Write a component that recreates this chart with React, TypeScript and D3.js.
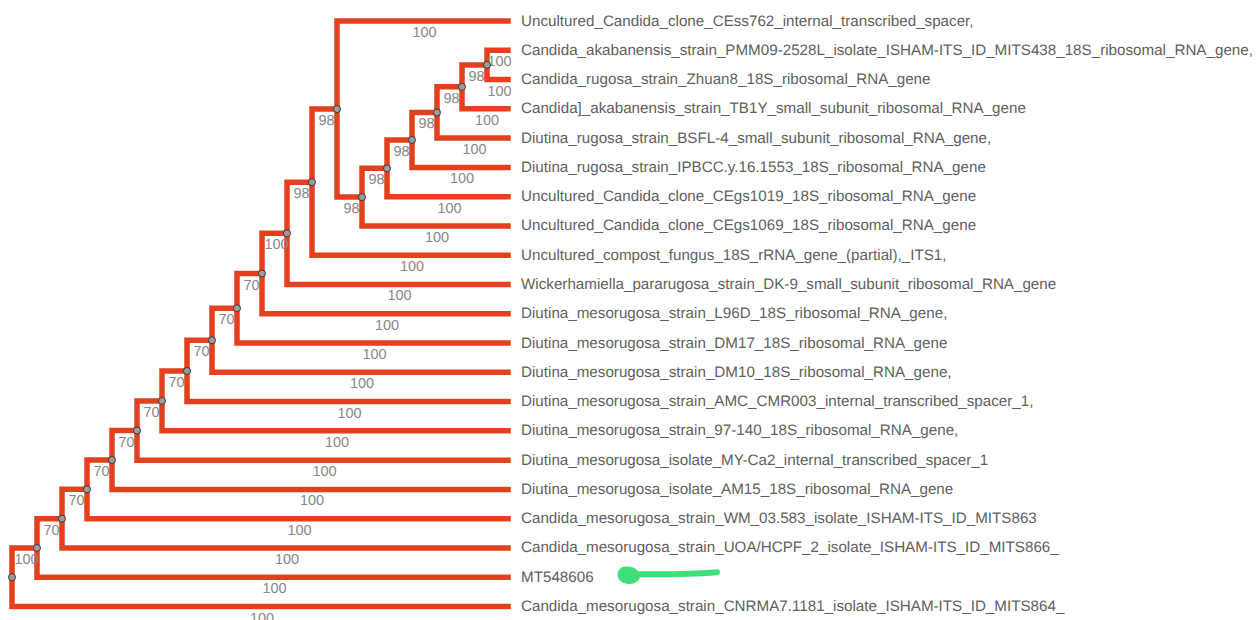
import React from 'react';
import { stratify, cluster, scaleLinear, HierarchyPointNode } from 'd3';

// internal nodes, listed top-down so child order is kept by stratify
const nodeIds = ['root', 'n1', 'n2', 'n3', 'n4', 'n5', 'n6', 'n7', 'n8', 'n9', 'n10', 'n11', 'n12', 'n13', 'n14', 'n15', 'n16', 'n17', 'n18', 'n19'];
const nodeParents = ['', 'root', 'n1', 'n2', 'n3', 'n4', 'n5', 'n6', 'n7', 'n8', 'n9', 'n10', 'n11', 'n12', 'n13', 'n14', 'n15', 'n16', 'n17', 'n18'];
const nodeSupport = [null, 100, 70, 70, 70, 70, 70, 70, 70, 70, 70, 100, 98, 98, 98, 98, 98, 98, 98, 98];

// leaves, top to bottom
const leafNames = [
  'Uncultured_Candida_clone_CEss762_internal_transcribed_spacer,',
  'Candida_akabanensis_strain_PMM09-2528L_isolate_ISHAM-ITS_ID_MITS438_18S_ribosomal_RNA_gene,',
  'Candida_rugosa_strain_Zhuan8_18S_ribosomal_RNA_gene',
  'Candida]_akabanensis_strain_TB1Y_small_subunit_ribosomal_RNA_gene',
  'Diutina_rugosa_strain_BSFL-4_small_subunit_ribosomal_RNA_gene,',
  'Diutina_rugosa_strain_IPBCC.y.16.1553_18S_ribosomal_RNA_gene',
  'Uncultured_Candida_clone_CEgs1019_18S_ribosomal_RNA_gene',
  'Uncultured_Candida_clone_CEgs1069_18S_ribosomal_RNA_gene',
  'Uncultured_compost_fungus_18S_rRNA_gene_(partial),_ITS1,',
  'Wickerhamiella_pararugosa_strain_DK-9_small_subunit_ribosomal_RNA_gene',
  'Diutina_mesorugosa_strain_L96D_18S_ribosomal_RNA_gene,',
  'Diutina_mesorugosa_strain_DM17_18S_ribosomal_RNA_gene',
  'Diutina_mesorugosa_strain_DM10_18S_ribosomal_RNA_gene,',
  'Diutina_mesorugosa_strain_AMC_CMR003_internal_transcribed_spacer_1,',
  'Diutina_mesorugosa_strain_97-140_18S_ribosomal_RNA_gene,',
  'Diutina_mesorugosa_isolate_MY-Ca2_internal_transcribed_spacer_1',
  'Diutina_mesorugosa_isolate_AM15_18S_ribosomal_RNA_gene',
  'Candida_mesorugosa_strain_WM_03.583_isolate_ISHAM-ITS_ID_MITS863',
  'Candida_mesorugosa_strain_UOA/HCPF_2_isolate_ISHAM-ITS_ID_MITS866_',
  'MT548606',
  'Candida_mesorugosa_strain_CNRMA7.1181_isolate_ISHAM-ITS_ID_MITS864_',
];
const leafParents = ['n13', 'n19', 'n19', 'n18', 'n17', 'n16', 'n15', 'n14', 'n12', 'n11', 'n10', 'n9', 'n8', 'n7', 'n6', 'n5', 'n4', 'n3', 'n2', 'n1', 'root'];
const leafSupport = [100, 100, 100, 100, 100, 100, 100, 100, 100, 100, 100, 100, 100, 100, 100, 100, 100, 100, 100, 100, 100];

const highlighted = 'MT548606';

type Row = { id: string; parent: string; support: number | null; leaf: boolean };

const W = 1259;
const H = 620;
const BRANCH = '#e5401e';
const TEXT = '#5f5f5f';
const SUPPORT = '#888';
const GREEN = '#3fe07a';

function buildRows(): Row[] {
  const internal: Row[] = nodeIds.map((id, i) => ({ id, parent: nodeParents[i], support: nodeSupport[i], leaf: false }));
  const leaves: Row[] = leafNames.map((id, i) => ({ id, parent: leafParents[i], support: leafSupport[i], leaf: true }));
  // order matters: each parent's upper child has to come first
  const rows: Row[] = [];
  rows.push(internal[0]);
  for (let i = 1; i <= 13; i++) rows.push(internal[i]);
  rows.push(leaves[0]); // CEss762 sits above n14
  for (let i = 14; i <= 19; i++) rows.push(internal[i]);
  for (let i = 1; i < leaves.length; i++) rows.push(leaves[i]);
  return rows;
}

const App: React.FC = () => {
  const rows = buildRows();
  const root = stratify<Row>()
    .id(d => d.id)
    .parentId(d => d.parent || null)(rows);

  // first and last leaf rows
  const top = 21;
  const bottom = 606.5;
  const step = (bottom - top) / (leafNames.length - 1);
  // cluster pads half a step on each side
  const layout = cluster<Row>().size([step * leafNames.length, 1]).separation(() => 1);
  const tree = layout(root) as HierarchyPointNode<Row>;
  const yOff = top - step / 2;

  const xNode = scaleLinear().domain([0, tree.height - 1]).range([12, 487]);
  const leafX = 508;

  const nodes = tree.descendants();
  const px = (n: HierarchyPointNode<Row>) => (n.data.leaf ? leafX : xNode(n.depth));
  const py = (n: HierarchyPointNode<Row>) => n.x + yOff;

  const links = tree.links();

  return (
    <svg width={W} height={H} style={{ position: 'absolute', left: 0, top: 0, background: '#fff' }}
      fontFamily="'Liberation Sans', Arial, sans-serif" textRendering="geometricPrecision">
      <g fill="none" stroke={BRANCH} strokeWidth={5.5} strokeLinejoin="miter" strokeLinecap="square">
        {links.map((l, i) => (
          <path key={i}
            d={`M${px(l.source)},${py(l.source)}V${py(l.target)}H${px(l.target)}`} />
        ))}
      </g>
      {/* support values under each branch */}
      <g fill={SUPPORT} fontSize={14.5} textAnchor="middle">
        {links.map((l, i) => (
          <text key={i} x={(px(l.source) + px(l.target)) / 2 + 2} y={py(l.target) + 16}>
            {l.target.data.support}
          </text>
        ))}
      </g>
      <g>
        {nodes.filter(n => !n.data.leaf).map(n => (
          <circle key={n.data.id} cx={px(n)} cy={py(n)} r={3.5} fill="#9c9c9c" stroke="#3a3a3a" strokeWidth={1} />
        ))}
      </g>
      <g fill={TEXT} fontSize={15.2} dominantBaseline="central">
        {nodes.filter(n => n.data.leaf).map(n => (
          <text key={n.data.id} x={leafX + 13} y={py(n)}>{n.data.id}</text>
        ))}
      </g>
      {/* hand-drawn green marker next to the query sequence */}
      {nodes.filter(n => n.data.id === highlighted).map(n => (
        <g key="arrow" transform={`translate(${leafX + 112},${py(n) - 4})`}>
          <path d="M8,1 C30,1 60,2 97,-1" fill="none" stroke={GREEN} strokeWidth={6} strokeLinecap="round" />
          <path d="M4,-5 C-3,-3 -3,7 7,9 C14,10 20,6 18,1 C16,-4 10,-6 4,-5 Z" fill={GREEN} stroke={GREEN} strokeWidth={3} strokeLinejoin="round" />
        </g>
      ))}
    </svg>
  );
};

export default App;
